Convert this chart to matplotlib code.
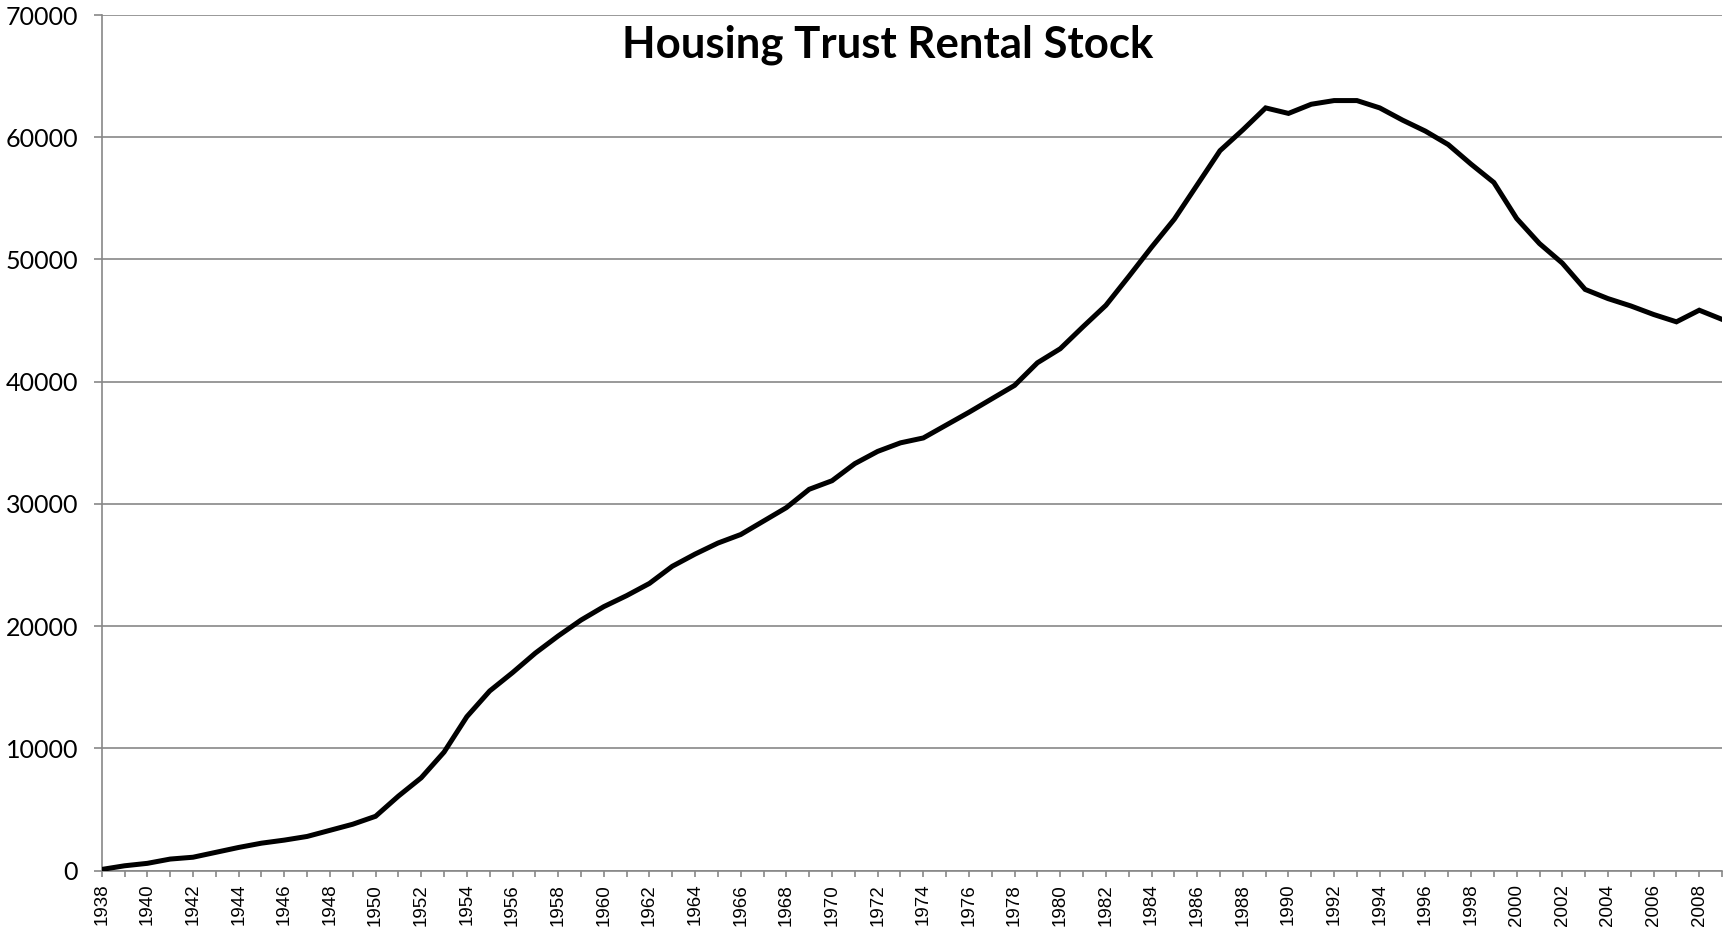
import matplotlib.pyplot as plt
import numpy as np

# yearly rental stock
years = list(range(1938, 2010))
stock = [
    100, 400, 600, 950, 1100, 1500, 1900, 2250, 2500, 2800,
    3300, 3800, 4450, 6100, 7600, 9700, 12600, 14700, 16200, 17800,
    19200, 20500, 21600, 22500, 23500, 24900, 25900, 26800, 27500, 28600,
    29700, 31200, 31900, 33300, 34300, 35000, 35400, 36450, 37500, 38600,
    39700, 41550, 42700, 44500, 46250, 48600, 51000, 53300, 56100, 58900,
    60600, 62400, 61950, 62700, 63000, 63000, 62400, 61400, 60500, 59400,
    57800, 56300, 53350, 51300, 49700, 47550, 46800, 46200, 45500, 44900,
    45850, 45100,
]
y_ticks = list(range(0, 70001, 10000))
title = "Housing Trust Rental Stock"

grey = "#878787"

fig = plt.figure(figsize=(17.33, 9.32), dpi=100)
ax = fig.add_axes([0.0587, 0.0658, 0.9350, 0.9181])

ax.plot(years, stock, color="black", lw=3.6, solid_joinstyle="miter", zorder=3)

ax.set_xlim(1938, 2009)
ax.set_ylim(0, 70000)

# grid + axes in Excel grey
ax.set_yticks(y_ticks)
ax.set_yticklabels([str(v) for v in y_ticks], fontfamily="Lato", fontsize=18)
ax.yaxis.grid(True, color=grey, lw=1.2)
ax.set_axisbelow(True)
ax.tick_params(axis="y", length=6, width=1.2, color=grey, pad=11)

ax.set_xticks(years)
ax.set_xticklabels([str(y) if y % 2 == 0 else "" for y in years],
                   rotation=90, fontfamily="Liberation Sans", fontsize=13.5)
ax.tick_params(axis="x", length=4.5, width=1.2, color=grey, pad=5)

for side in ["top", "right"]:
    ax.spines[side].set_visible(False)
for side in ["left", "bottom"]:
    ax.spines[side].set_color(grey)
    ax.spines[side].set_linewidth(1.2)

ax.text(0.485, 0.965, title, transform=ax.transAxes, ha="center", va="center",
        fontfamily="Lato", fontweight="bold", fontsize=31.5)

fig.savefig("out.png", dpi=100)
